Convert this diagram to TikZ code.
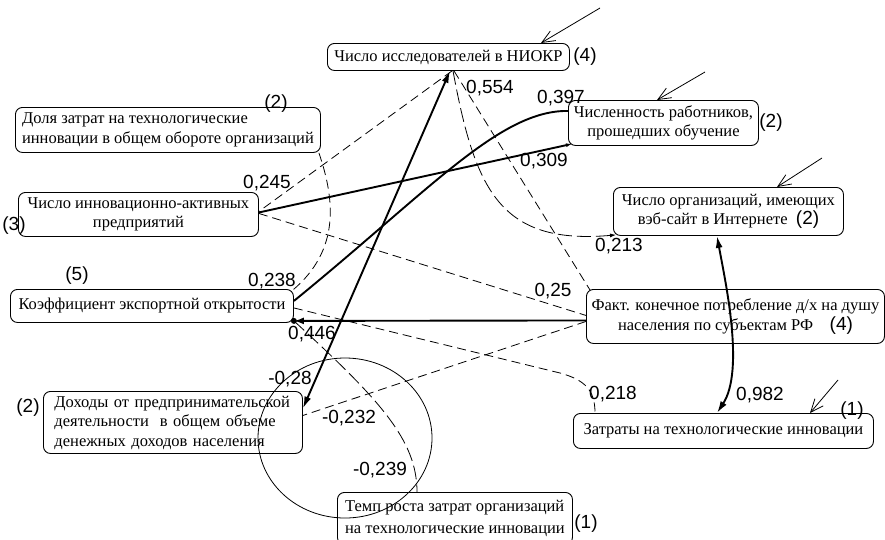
\documentclass[tikz,border=0pt]{standalone}
\usepackage{fontspec}
\setmainfont{Liberation Serif}
\newfontfamily\numfont{Liberation Sans}
\usetikzlibrary{arrows.meta,calc}
\begin{document}
\begin{tikzpicture}[x=1pt,y=-1pt,
  box/.style={draw, line width=0.9pt, rounded corners=7pt, inner sep=2pt, anchor=north west,
    font=\fontsize{16.5}{19.5}\selectfont},
  num/.style={font=\numfont\fontsize{19}{19}\selectfont, inner sep=0pt},
  thinl/.style={line width=0.8pt},
  strong/.style={line width=1.9pt},
  dsh/.style={line width=0.8pt, dash pattern=on 9pt off 5pt},
  ldsh/.style={line width=0.8pt, dash pattern=on 14pt off 5pt},
  inarrow/.style={line width=0.8pt, -{Straight Barb[length=13pt,width=11pt]}},
  bigtip/.tip={Latex[length=12pt,width=7pt]},
  smalltip/.tip={Latex[length=6pt,width=4pt]}
]
\useasboundingbox (0,0) rectangle (885,539);

% boxes
\node[box, minimum width=242pt, minimum height=27pt] (n1) at (327,43) {Число исследователей в НИОКР};
\node[box, minimum width=305pt, minimum height=45pt, align=left] (n2) at (15,107)
  {Доля затрат на технологические\\инновации в общем обороте организаций};
\node[box, minimum width=240pt, minimum height=44pt, align=center] (n3) at (18,192)
  {Число инновационно-активных\\предприятий};
\node[box, minimum width=190pt, minimum height=45pt, align=center] (n4) at (568,100)
  {Численность работников,\\прошедших обучение};
\node[box, minimum width=230pt, minimum height=48pt, align=center] (n5) at (613,187)
  {Число организаций, имеющих\\вэб-сайт в Интернете\ \ {\numfont\fontsize{19}{19}\selectfont(2)}};
\node[box, minimum width=283pt, minimum height=33pt] (n6) at (10,289) {Коэффициент экспортной открытости};
\node[box, minimum width=298pt, minimum height=54pt, align=center] (n7) at (586,289)
  {Факт. конечное потребление д/х на душу\\населения по субъектам РФ\quad{\numfont\fontsize{19}{19}\selectfont(4)}};
\node[box, minimum width=259pt, minimum height=62pt, align=left, text width=237pt] (n8) at (43,391)
  {Доходы от предпринимательской\\деятельности \ в общем объеме\\денежных доходов населения};
\node[box, minimum width=235pt, minimum height=52pt, align=left,
  font=\fontsize{16.5}{22}\selectfont] (n9) at (337,492)
  {Темп роста затрат организаций\\на технологические инновации};
\node[box, minimum width=300pt, minimum height=35pt] (n10) at (573,413) {Затраты на технологические инновации};

% outside labels
\node[num] (l1) at (585,57) {(4)};
\node[num] (l2) at (276,104) {(2)};
\node[num] (l3) at (14,226) {(3)};
\node[num] (l4) at (771,123) {(2)};
\node[num] (l5) at (77,276) {(5)};
\node[num] (l6) at (28,408) {(2)};
\node[num] (l7) at (586,524) {(1)};
\node[num] (l8) at (852,411) {(1)};

% circle
\draw[thinl] (345,438) ellipse [x radius=87pt, y radius=80pt];

% connectors
\draw[strong, bigtip-bigtip] ([yshift=14pt]n8.east) -- ([xshift=123pt]n1.south west);
\draw[dsh] ([xshift=125pt]n1.south west) -- ([yshift=3pt]n3.east);
\draw[strong, -smalltip] ([yshift=2pt]n3.east) -- ([xshift=4pt,yshift=2pt]n4.south west);
\draw[strong] ([yshift=5pt]n6.east) .. controls (430,190) and (500,110) .. ([yshift=12pt]n4.west);
\draw[dsh] ([xshift=-2pt]n2.south east) .. controls (335,200) and (340,250) .. ([xshift=-1pt,yshift=-1pt]n6.north east);
\draw[dsh] ([yshift=1pt]n3.east) -- ([yshift=1pt]n7.west);
\draw[strong, -{Latex[length=10pt,width=7pt]}] ([yshift=-4pt]n7.west) -- ([yshift=2pt]n6.south east);
\fill ([yshift=2pt]n6.south east) circle (3pt);
\draw[dsh] ([yshift=-2pt]n6.east) -- (560,373) .. controls (585,380) and (595,390) .. ([xshift=22pt]n10.north west);
\draw[dsh] ([yshift=-5pt]n7.west) -- ([yshift=7pt]n8.east);
\draw[ldsh] ([yshift=2pt]n6.south east) .. controls (380,400) and (417,440) .. ([xshift=80pt]n9.north west);
\draw[dsh] ([xshift=127pt]n1.south west) -- ([xshift=4pt,yshift=-1pt]n7.north west);
\draw[ldsh, -smalltip] ([xshift=126pt]n1.south west) .. controls (475,190) and (500,245) .. ([xshift=3pt,yshift=1pt]n5.south west);
\draw[strong, bigtip-bigtip] ([xshift=104pt]n5.south west) .. controls (725,280) and (745,370) .. ([xshift=144pt]n10.north west);

% incoming arrows
\coordinate (i1) at (600,8);
\coordinate (i2) at (705,72);
\coordinate (i3) at (822,158);
\coordinate (i4) at (838,380);
\draw[inarrow] (i1) -- ([xshift=214pt]n1.north west);
\draw[inarrow] (i2) -- ([xshift=89pt]n4.north west);
\draw[inarrow] (i3) -- ([xshift=164pt]n5.north west);
\draw[inarrow] (i4) -- ([xshift=237pt]n10.north west);

% coefficient labels
\node[num] (c1) at (490,88) {0,554};
\node[num] (c2) at (561,98) {0,397};
\node[num] (c3) at (544,161) {0,309};
\node[num] (c4) at (267,183) {0,245};
\node[num] (c5) at (272,281) {0,238};
\node[num] (c6) at (312,334) {0,446};
\node[num] (c7) at (553,291) {0,25};
\node[num] (c8) at (619,246) {0,213};
\node[num] (c9) at (613,394) {0,218};
\node[num] (c10) at (760,395) {0,982};
\node[num] (c11) at (290,379) {-0,28};
\node[num] (c12) at (349,418) {-0,232};
\node[num] (c13) at (380,470) {-0,239};
\end{tikzpicture}
\end{document}
